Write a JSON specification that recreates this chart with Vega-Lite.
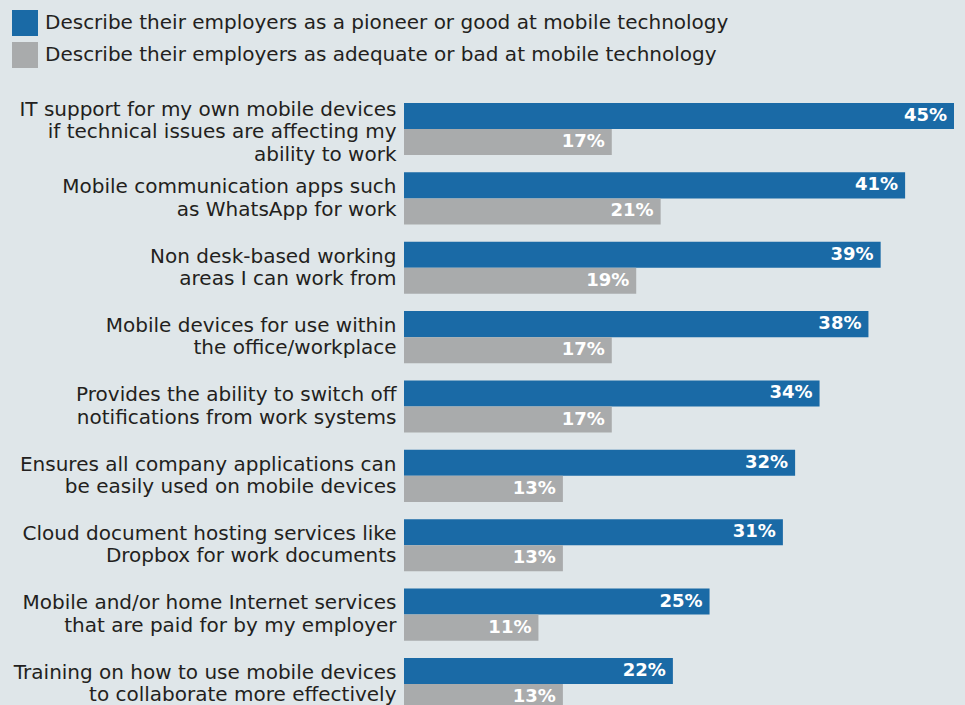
{
  "$schema": "https://vega.github.io/schema/vega-lite/v6.json",
  "width": 550,
  "height": 607,
  "autosize": "none",
  "padding": {"left": 404, "top": 103, "right": 11, "bottom": 0},
  "background": "#dfe6e9",
  "config": {
    "view": {"stroke": null},
    "font": "DejaVu Sans",
    "legend": {"padding": 0}
  },
  "data": {
    "values": [
      {"item": "IT support for my own mobile devices|if technical issues are affecting my|ability to work", "series": "Describe their employers as a pioneer or good at mobile technology", "value": 0.45},
      {"item": "IT support for my own mobile devices|if technical issues are affecting my|ability to work", "series": "Describe their employers as adequate or bad at mobile technology", "value": 0.17},
      {"item": "Mobile communication apps such|as WhatsApp for work", "series": "Describe their employers as a pioneer or good at mobile technology", "value": 0.41},
      {"item": "Mobile communication apps such|as WhatsApp for work", "series": "Describe their employers as adequate or bad at mobile technology", "value": 0.21},
      {"item": "Non desk-based working|areas I can work from", "series": "Describe their employers as a pioneer or good at mobile technology", "value": 0.39},
      {"item": "Non desk-based working|areas I can work from", "series": "Describe their employers as adequate or bad at mobile technology", "value": 0.19},
      {"item": "Mobile devices for use within|the office/workplace", "series": "Describe their employers as a pioneer or good at mobile technology", "value": 0.38},
      {"item": "Mobile devices for use within|the office/workplace", "series": "Describe their employers as adequate or bad at mobile technology", "value": 0.17},
      {"item": "Provides the ability to switch off|notifications from work systems", "series": "Describe their employers as a pioneer or good at mobile technology", "value": 0.34},
      {"item": "Provides the ability to switch off|notifications from work systems", "series": "Describe their employers as adequate or bad at mobile technology", "value": 0.17},
      {"item": "Ensures all company applications can|be easily used on mobile devices", "series": "Describe their employers as a pioneer or good at mobile technology", "value": 0.32},
      {"item": "Ensures all company applications can|be easily used on mobile devices", "series": "Describe their employers as adequate or bad at mobile technology", "value": 0.13},
      {"item": "Cloud document hosting services like|Dropbox for work documents", "series": "Describe their employers as a pioneer or good at mobile technology", "value": 0.31},
      {"item": "Cloud document hosting services like|Dropbox for work documents", "series": "Describe their employers as adequate or bad at mobile technology", "value": 0.13},
      {"item": "Mobile and/or home Internet services|that are paid for by my employer", "series": "Describe their employers as a pioneer or good at mobile technology", "value": 0.25},
      {"item": "Mobile and/or home Internet services|that are paid for by my employer", "series": "Describe their employers as adequate or bad at mobile technology", "value": 0.11},
      {"item": "Training on how to use mobile devices|to collaborate more effectively", "series": "Describe their employers as a pioneer or good at mobile technology", "value": 0.22},
      {"item": "Training on how to use mobile devices|to collaborate more effectively", "series": "Describe their employers as adequate or bad at mobile technology", "value": 0.13}
    ]
  },
  "encoding": {
    "y": {
      "field": "item",
      "type": "nominal",
      "sort": null,
      "scale": {"paddingInner": 0.25, "paddingOuter": 0},
      "axis": {
        "title": null,
        "domain": false,
        "ticks": false,
        "labelPadding": 8,
        "labelFontSize": 20,
        "labelColor": "#231f20",
        "labelLineHeight": 22.5,
        "labelBaseline": "middle",
        "labelLimit": 404,
        "labelOffset": {"expr": "length(split(datum.label, '|')) == 3 ? -19.5 : -(length(split(datum.label, '|')) - 1) * 11.25"},
        "labelExpr": "split(datum.label, '|')"
      }
    },
    "yOffset": {
      "field": "series",
      "sort": ["Describe their employers as a pioneer or good at mobile technology", "Describe their employers as adequate or bad at mobile technology"],
      "scale": {"paddingInner": 0, "paddingOuter": 0}
    },
    "x": {
      "field": "value",
      "type": "quantitative",
      "scale": {"domain": [0, 0.45], "nice": false},
      "axis": null
    }
  },
  "layer": [
    {
      "mark": {"type": "bar"},
      "encoding": {
        "color": {
          "field": "series",
          "type": "nominal",
          "sort": ["Describe their employers as a pioneer or good at mobile technology", "Describe their employers as adequate or bad at mobile technology"],
          "scale": {"range": ["#1a6aa6", "#a9abac"]},
          "legend": {
            "title": null,
            "orient": "none",
            "legendX": -392,
            "legendY": -93,
            "symbolType": "square",
            "symbolSize": 676,
            "symbolStrokeWidth": 0,
            "symbolOpacity": 1,
            "labelFontSize": 20,
            "labelColor": "#231f20",
            "labelOffset": 7,
            "labelLimit": 800,
            "rowPadding": 6
          }
        }
      }
    },
    {
      "mark": {"type": "text", "align": "right", "dx": -7, "color": "white", "fontWeight": "bold", "fontSize": 18},
      "encoding": {
        "text": {"field": "value", "type": "quantitative", "format": ".0%"}
      }
    }
  ]
}
